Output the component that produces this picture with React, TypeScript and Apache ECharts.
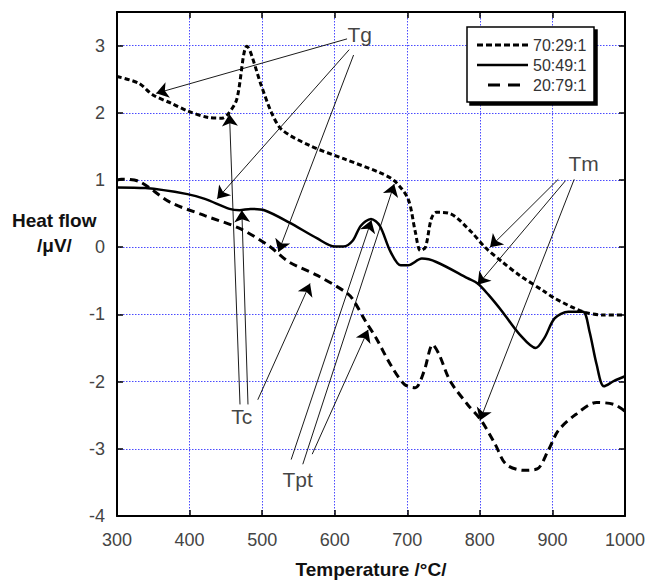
import React, { useEffect, useRef } from "react";
import * as echarts from "echarts";

// Temperature (°C) / heat flow (µV) pairs
const seriesA_T = [300, 330, 349, 375, 397, 426, 445, 453, 465, 479, 499, 513, 527, 566, 614, 662, 682, 701, 711, 718, 725, 733, 740, 759, 788, 807, 831, 855, 889, 903, 942, 971, 1000];
const seriesA_Y = [2.54, 2.44, 2.27, 2.14, 2.03, 1.93, 1.92, 1.98, 2.2, 2.99, 2.4, 2.0, 1.75, 1.51, 1.31, 1.11, 0.99, 0.72, 0.23, -0.05, 0.0, 0.42, 0.52, 0.5, 0.23, 0.0, -0.22, -0.42, -0.66, -0.76, -0.96, -1.01, -1.01];

const seriesB_T = [300, 339, 397, 421, 455, 469, 484, 503, 537, 576, 600, 612, 625, 636, 650, 662, 677, 691, 701, 720, 740, 783, 797, 812, 831, 855, 877, 889, 903, 922, 942, 951, 961, 971, 985, 1000];
const seriesB_Y = [0.89, 0.88, 0.79, 0.72, 0.57, 0.55, 0.57, 0.55, 0.37, 0.13, 0.01, 0.01, 0.1, 0.32, 0.42, 0.32, -0.07, -0.27, -0.27, -0.17, -0.22, -0.46, -0.54, -0.71, -0.96, -1.3, -1.5, -1.35, -1.06, -0.96, -0.96, -1.25, -1.75, -2.07, -1.99, -1.92];

const seriesC_T = [300, 306, 330, 373, 421, 469, 508, 537, 576, 614, 624, 643, 657, 677, 696, 711, 723, 735, 744, 759, 783, 802, 821, 836, 860, 879, 894, 908, 932, 961, 985, 1000];
const seriesC_Y = [1.0, 1.01, 0.98, 0.67, 0.47, 0.28, 0.03, -0.22, -0.42, -0.66, -0.76, -1.11, -1.35, -1.75, -2.04, -2.09, -1.85, -1.45, -1.6, -1.99, -2.34, -2.58, -2.93, -3.23, -3.32, -3.3, -3.03, -2.73, -2.49, -2.31, -2.34, -2.44];

const seriesNames = ["70:29:1", "50:49:1", "20:79:1"];

// Annotation labels [T, y]
const annotationLabels = [
  { name: "Tg", at: [634.5, 3.16] },
  { name: "Tm", at: [943, 1.24] },
  { name: "Tc", at: [472, -2.52] },
  { name: "Tpt", at: [549, -3.46] },
];

// Annotation arrows: from [T, y] to [T, y]
const annotationArrows = [
  [[617, 3.1], [354, 2.29]],
  [[620, 2.94], [438, 0.72]],
  [[626, 2.86], [522.5, -0.07]],
  [[908, 1.01], [814, 0.0]],
  [[918, 0.99], [797, -0.56]],
  [[930, 1.01], [800, -2.58]],
  [[469.5, -2.34], [455, 1.98]],
  [[480.5, -2.34], [472, 0.55]],
  [[494, -2.27], [566, -0.54]],
  [[540, -3.16], [650.5, 0.4]],
  [[556, -3.23], [682, 0.94]],
  [[569, -3.08], [646, -1.23]],
];

const xTicks = { min: 300, max: 1000, interval: 100 };
const yTicks = { min: -4, max: 3.5, interval: 1 };

const zip = (a: number[], b: number[]) => a.map((v, i) => [v, b[i]]);

export default function App() {
  const ref = useRef<HTMLDivElement>(null);
  useEffect(() => {
    document.body.style.margin = "0";
    if (!ref.current) return;
    const chart = echarts.init(ref.current, undefined, { renderer: "svg" });
    const font = "'Liberation Sans', Arial, sans-serif";
    const gridLine = { show: true, lineStyle: { color: "#4a4aff", width: 1, type: [1.5, 1.5] as any } };
    const axisLine = { show: true, onZero: false, lineStyle: { color: "#000", width: 2 } };
    const tick = { show: true, inside: true, length: 6, lineStyle: { color: "#000", width: 1.5 } };
    const intLabel = (v: number) => (Number.isInteger(v) ? String(v) : "");
    chart.setOption({
      animation: false,
      backgroundColor: "#fff",
      grid: { left: 117, right: 24, top: 12, bottom: 65, containLabel: false },
      xAxis: [
        {
          type: "value",
          min: xTicks.min,
          max: xTicks.max,
          interval: xTicks.interval,
          name: "Temperature /°C/",
          nameLocation: "middle",
          nameGap: 44,
          nameTextStyle: { fontFamily: font, fontWeight: "bold", fontSize: 19, color: "#111" },
          axisLine,
          axisTick: tick,
          splitLine: gridLine,
          axisLabel: { fontFamily: font, fontSize: 18, color: "#444", margin: 15, formatter: (v: number) => String(v) },
        },
        {
          type: "value",
          position: "top",
          min: xTicks.min,
          max: xTicks.max,
          interval: xTicks.interval,
          axisLine,
          axisTick: tick,
          splitLine: { show: false },
          axisLabel: { show: false },
        },
      ],
      yAxis: [
        {
          type: "value",
          min: yTicks.min,
          max: yTicks.max,
          interval: yTicks.interval,
          axisLine,
          axisTick: tick,
          splitLine: gridLine,
          axisLabel: { fontFamily: font, fontSize: 18, color: "#444", margin: 12, formatter: intLabel },
        },
        {
          type: "value",
          position: "right",
          min: yTicks.min,
          max: yTicks.max,
          interval: yTicks.interval,
          axisLine,
          axisTick: tick,
          splitLine: { show: false },
          axisLabel: { show: false },
        },
      ],
      series: [
        {
          name: seriesNames[0],
          type: "line",
          data: zip(seriesA_T, seriesA_Y),
          smooth: 0.3,
          showSymbol: false,
          lineStyle: { color: "#000", width: 3, type: [5, 3] },
          z: 3,
        },
        {
          name: seriesNames[1],
          type: "line",
          data: zip(seriesB_T, seriesB_Y),
          smooth: 0.3,
          showSymbol: false,
          lineStyle: { color: "#000", width: 2.5, type: "solid" },
          z: 3,
        },
        {
          name: seriesNames[2],
          type: "line",
          data: zip(seriesC_T, seriesC_Y),
          smooth: 0.3,
          showSymbol: false,
          lineStyle: { color: "#000", width: 3, type: [8, 5] },
          z: 3,
        },
        {
          type: "lines",
          coordinateSystem: "cartesian2d",
          symbol: ["none", "arrow"],
          symbolSize: [7, 12],
          lineStyle: { color: "#000", width: 0.9, opacity: 1 },
          data: annotationArrows.map((c) => ({ coords: c })),
          z: 4,
        },
        {
          type: "scatter",
          symbolSize: 1,
          itemStyle: { color: "rgba(0,0,0,0)" },
          label: {
            show: true,
            position: "inside",
            formatter: "{b}",
            fontFamily: font,
            fontSize: 21,
            color: "#111",
          },
          data: annotationLabels.map((a) => ({ name: a.name, value: a.at })),
          z: 5,
        },
      ],
      graphic: [
        {
          type: "text",
          left: 12,
          top: 211,
          style: { text: "Heat flow", fontFamily: font, fontWeight: "bold", fontSize: 19, fill: "#111" },
        },
        {
          type: "text",
          left: 37,
          top: 236,
          style: { text: "/μV/", fontFamily: font, fontWeight: "bold", fontSize: 19, fill: "#111" },
        },
        {
          type: "rect",
          shape: { x: 467, y: 27, width: 127, height: 75 },
          style: { fill: "#fff", stroke: "#000", lineWidth: 1.5, shadowColor: "#000", shadowOffsetX: 3, shadowOffsetY: 3, shadowBlur: 0 },
          z: 10,
        },
        {
          type: "line",
          shape: { x1: 477, y1: 45, x2: 528, y2: 45 },
          style: { stroke: "#000", lineWidth: 3, lineDash: [6, 3] },
          z: 11,
        },
        {
          type: "line",
          shape: { x1: 477, y1: 65, x2: 528, y2: 65 },
          style: { stroke: "#000", lineWidth: 2.5 },
          z: 11,
        },
        {
          type: "line",
          shape: { x1: 488, y1: 85, x2: 524, y2: 85 },
          style: { stroke: "#000", lineWidth: 3, lineDash: [12, 8] },
          z: 11,
        },
        ...seriesNames.map((n, i) => ({
          type: "text",
          x: 533,
          y: 45 + i * 20,
          style: { text: n, fontFamily: font, fontSize: 16, fill: "#333", textVerticalAlign: "middle", verticalAlign: "middle" },
          z: 11,
        })),
      ],
    });
    return () => chart.dispose();
  }, []);
  return <div ref={ref} style={{ width: 649, height: 584 }} />;
}
